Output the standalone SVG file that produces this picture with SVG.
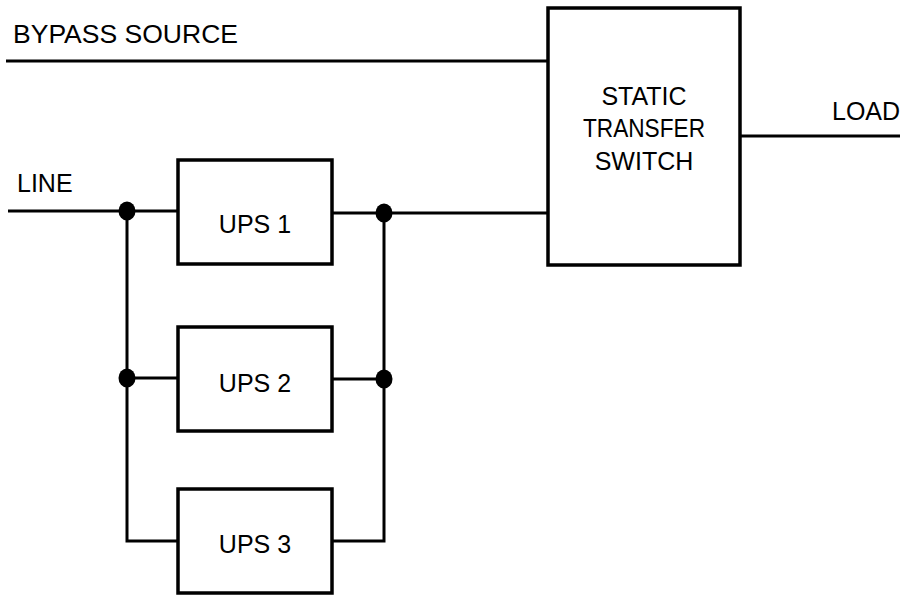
<svg xmlns="http://www.w3.org/2000/svg" width="900" height="595" viewBox="0 0 900 595">
<style>
.box{fill:#fff;stroke:#000;stroke-width:3.5}
.wire{fill:none;stroke:#000;stroke-width:3}
.dot{fill:#000}
text{font-family:"Liberation Sans",Arial,sans-serif;font-size:25px;fill:#000}
.c{text-anchor:middle}
</style>
<rect width="900" height="595" fill="#fff"/>
<g id="connectors">
<path class="wire" d="M6,61 H548"/>
<path class="wire" d="M8,211 H178"/>
<path class="wire" d="M332,213 H548"/>
<path class="wire" d="M740,136 H900"/>
<path class="wire" d="M127,211 V541 H178"/>
<path class="wire" d="M127,378 H178"/>
<path class="wire" d="M384,213 V541 H332"/>
<path class="wire" d="M332,379 H384"/>
<ellipse class="dot" cx="127" cy="211" rx="8.5" ry="9.5"/>
<ellipse class="dot" cx="384" cy="213" rx="8.5" ry="9.5"/>
<ellipse class="dot" cx="127" cy="378" rx="8.5" ry="9.5"/>
<ellipse class="dot" cx="384" cy="379" rx="8.5" ry="9.5"/>
</g>
<g id="labels">
<text x="13" y="43" textLength="225" lengthAdjust="spacingAndGlyphs">BYPASS SOURCE</text>
<text x="17" y="192">LINE</text>
<text x="832" y="120">LOAD</text>
</g>
<g id="sts">
<rect class="box" x="548" y="8" width="192" height="257"/>
<text class="c" x="644" y="105">STATIC</text>
<text class="c" x="644" y="137" textLength="122" lengthAdjust="spacingAndGlyphs">TRANSFER</text>
<text class="c" x="644" y="170">SWITCH</text>
</g>
<g id="ups1">
<rect class="box" x="178" y="160" width="154" height="104"/>
<text class="c" x="255" y="233">UPS 1</text>
</g>
<g id="ups2">
<rect class="box" x="178" y="327" width="154" height="104"/>
<text class="c" x="255" y="392">UPS 2</text>
</g>
<g id="ups3">
<rect class="box" x="178" y="489" width="154" height="104"/>
<text class="c" x="255" y="553">UPS 3</text>
</g>
</svg>
